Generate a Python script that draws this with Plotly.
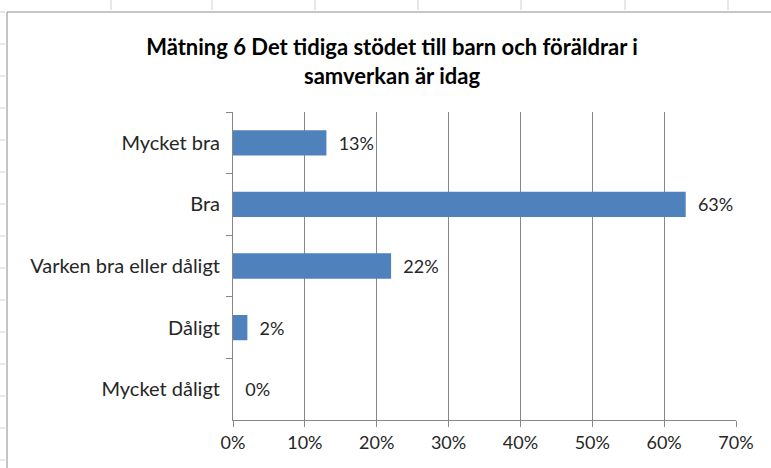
import plotly.graph_objects as go

categories = ["Mycket bra", "Bra", "Varken bra eller dåligt", "Dåligt", "Mycket dåligt"]
values = [0.13, 0.63, 0.22, 0.02, 0.0]
title_text = "Mätning 6 Det tidiga stödet till barn och föräldrar i<br>samverkan är idag"

W, H = 771, 468
L, R, T, B = 233, 736, 112, 420

def px(x):
    return (x - L) / (R - L)

def py(y):
    return (B - y) / (B - T)

FONT = "Lato"

fig = go.Figure(go.Bar(
    y=categories, x=values, orientation="h",
    marker=dict(color="#4F81BD", line=dict(width=0)),
    width=0.41,
    text=["\u00a0\u00a0" + f"{round(v*100)}%" for v in values],
    textposition="outside", cliponaxis=False,
    textfont=dict(family=FONT, size=18, color="#262626"),
    hoverinfo="skip",
))

shapes = []
# chart area border
shapes.append(dict(type="rect", xref="paper", yref="paper",
                   x0=px(7), x1=px(800), y0=py(12), y1=py(500),
                   line=dict(color="#8c8c8c", width=1), layer="below"))
# spreadsheet tick marks (top)
for xx in [111, 212, 315, 418, 521, 625, 728]:
    shapes.append(dict(type="line", xref="paper", yref="paper",
                       x0=px(xx), x1=px(xx), y0=py(0), y1=py(10),
                       line=dict(color="#d0d0d0", width=1)))
# spreadsheet tick marks (left)
for yy in [12, 44, 76, 108, 140, 172, 204, 236, 268, 300, 332, 364, 396, 428, 460]:
    shapes.append(dict(type="line", xref="paper", yref="paper",
                       x0=px(0), x1=px(5), y0=py(yy), y1=py(yy),
                       line=dict(color="#d0d0d0", width=1)))

fig.update_layout(
    width=W, height=H,
    margin=dict(l=L, r=W - R, t=T, b=H - B, pad=0),
    paper_bgcolor="white", plot_bgcolor="white",
    showlegend=False,
    title=dict(text=title_text, x=392 / W, xanchor="center",
               y=1 - 55 / H, yanchor="middle",
               font=dict(family=FONT, size=22, color="#000000", weight="bold")),
    xaxis=dict(range=[0, 0.7], dtick=0.1, tickformat=".0%",
               showgrid=True, gridcolor="#878787", gridwidth=1,
               showline=True, linecolor="#878787", linewidth=1,
               ticks="outside", ticklen=6, tickcolor="#878787",
               tickfont=dict(family=FONT, size=18, color="#262626"),
               zeroline=False, fixedrange=True),
    yaxis=dict(autorange="reversed", showline=True, linecolor="#878787", linewidth=1,
               ticks="outside", ticklen=6, tickcolor="#878787", tickson="boundaries",
               tickfont=dict(family=FONT, size=20, color="#262626"),
               showgrid=False, fixedrange=True, ticklabelstandoff=8),
    shapes=shapes,
    font=dict(family=FONT),
)

fig.write_html("out.html", config={"displayModeBar": False},
               post_script="document.body.style.margin='0';document.body.style.overflow='hidden';")
